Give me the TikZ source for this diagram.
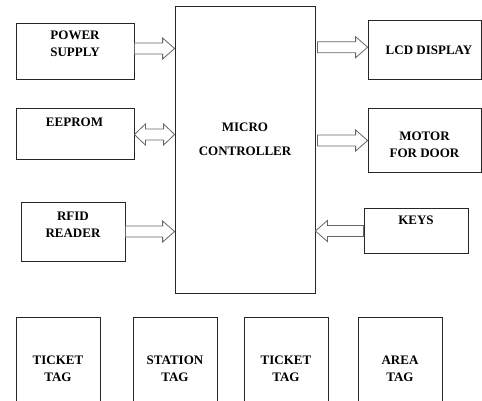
\documentclass[tikz,border=0pt]{standalone}
\usepackage{fontspec}
\setmainfont{Liberation Serif}
\usetikzlibrary{positioning,calc}

\tikzset{
  blk/.style={draw=black!85, line width=0.8pt, inner sep=0pt},
  lbl/.style={font=\bfseries\fontsize{13}{17}\selectfont, align=center, inner sep=0pt},
  fatline/.style={draw=black!60, fill=white, line width=0.8pt, line join=miter},
}

% hollow block arrow: start point, then the node edge it points at
\newcommand{\fatarrow}[2]{%
  \draw[fatline] let \p1=(#1), \p2=(#2), \p3=($(\x2,\y1)!12pt!(\x1,\y1)$) in
    (\x1,\y1+5.5pt) -- (\x3,\y1+5.5pt) -- (\x3,\y1+10.5pt) -- (\x2,\y1)
    -- (\x3,\y1-10.5pt) -- (\x3,\y1-5.5pt) -- (\x1,\y1-5.5pt) -- cycle;}
% same, with a head at both ends
\newcommand{\fatboth}[2]{%
  \draw[fatline] let \p1=(#1), \p2=(#2), \p3=($(\x2,\y1)!11pt!(\x1,\y1)$),
    \p4=($(\x1,\y1)!11pt!(\x2,\y1)$) in
    (\x1,\y1) -- (\x4,\y1+10.5pt) -- (\x4,\y1+5.5pt) -- (\x3,\y1+5.5pt)
    -- (\x3,\y1+10.5pt) -- (\x2,\y1) -- (\x3,\y1-10.5pt) -- (\x3,\y1-5.5pt)
    -- (\x4,\y1-5.5pt) -- (\x4,\y1-10.5pt) -- cycle;}

\begin{document}
\begin{tikzpicture}[x=1pt, y=-1pt]
    \useasboundingbox (0,0) rectangle (482,400);
    \clip (0,0) rectangle (482,400);

    % blocks
    \node[blk, minimum width=118, minimum height=56] (ps) at (75,51) {};
    \node[blk, minimum width=118, minimum height=51] (ee) at (75,133.5) {};
    \node[blk, minimum width=104, minimum height=59] (rf) at (73,231.5) {};
    \node[blk, minimum width=140, minimum height=287] (mc) at (245,149.5) {};
    \node[blk, minimum width=113, minimum height=59] (lcd) at (424.5,49.5) {};
    \node[blk, minimum width=113, minimum height=64] (mot) at (424.5,140) {};
    \node[blk, minimum width=104, minimum height=45] (key) at (416,230.5) {};

    % block texts
    \node[lbl] (pstxt) at (75,43.5) {POWER\\SUPPLY};
    \node[lbl] (eetxt) at (74.5,122) {EEPROM};
    \node[lbl] (rftxt) at (73,224.5) {RFID\\READER};
    \node[lbl] (mctxt) at (245,139) {MICRO\\[7pt]CONTROLLER};
    \node[lbl] (lcdtxt) at (429,50) {LCD DISPLAY};
    \node[lbl] (mottxt) at (424.5,145) {MOTOR\\FOR DOOR};
    \node[lbl] (keytxt) at (416,220) {KEYS};

    % tags
    \node[blk, minimum width=84, minimum height=113] (tag1) at (58,373.5) {};
    \node[blk, minimum width=84, minimum height=113] (tag2) at (175,373.5) {};
    \node[blk, minimum width=84, minimum height=113] (tag3) at (286,373.5) {};
    \node[blk, minimum width=84, minimum height=113] (tag4) at (400,373.5) {};
    \node[lbl] (tag1txt) at (58,369) {TICKET\\TAG};
    \node[lbl] (tag2txt) at (175,369) {STATION\\TAG};
    \node[lbl] (tag3txt) at (286,369) {TICKET\\TAG};
    \node[lbl] (tag4txt) at (400,369) {AREA\\TAG};

    % arrows
    \fatarrow{$(ps.east)+(0,-2.5)$}{mc.west}
    \fatboth{$(ee.east)+(0,1)$}{mc.west}
    \fatarrow{rf.east}{mc.west}
    \fatarrow{$(mc.east |- lcd.west)+(2,-2.3)$}{lcd.west}
    \fatarrow{$(mc.east |- mot.west)+(2,0.5)$}{mot.west}
    \fatarrow{$(key.west)+(0,0.5)$}{mc.east}
\end{tikzpicture}
\end{document}
